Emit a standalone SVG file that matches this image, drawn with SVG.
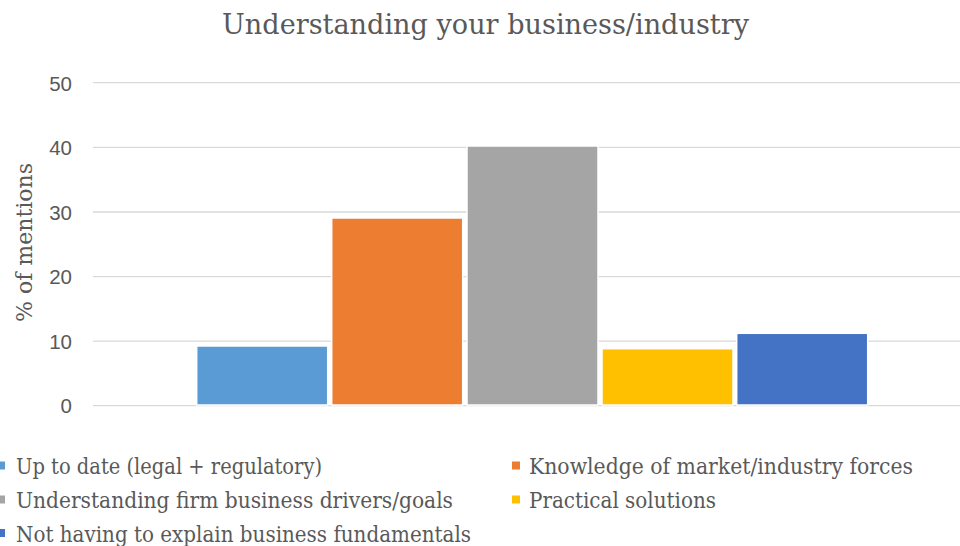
<svg xmlns="http://www.w3.org/2000/svg" width="960" height="546" viewBox="0 0 960 546">
<style>
.serif{font-family:"DejaVu Serif","Liberation Serif",serif;fill:#595959}
.tick{font-family:"Liberation Sans","DejaVu Sans",sans-serif;font-size:20.5px;fill:#595959;text-anchor:end}
.grid{stroke:#D9D9D9;stroke-width:1.3}
.bar{stroke:#FFFFFF;stroke-width:1.5}
</style>
<rect width="960" height="546" fill="#FFFFFF"/>
<text id="title" class="serif" x="222" y="33.5" font-size="28" textLength="527" lengthAdjust="spacingAndGlyphs">Understanding your business/industry</text>
<g id="gridlines">
<line class="grid" x1="93" y1="82.7" x2="960" y2="82.7"/>
<line class="grid" x1="93" y1="147.3" x2="960" y2="147.3"/>
<line class="grid" x1="93" y1="212" x2="960" y2="212"/>
<line class="grid" x1="93" y1="276.6" x2="960" y2="276.6"/>
<line class="grid" x1="93" y1="341.2" x2="960" y2="341.2"/>
<line class="grid" x1="93" y1="405.7" x2="960" y2="405.7"/>
</g>
<g id="yaxis">
<text class="tick" x="72" y="90.5">50</text>
<text class="tick" x="72" y="155">40</text>
<text class="tick" x="72" y="219.5">30</text>
<text class="tick" x="72" y="284">20</text>
<text class="tick" x="72" y="348.5">10</text>
<text class="tick" x="72" y="413">0</text>
<text class="serif" font-size="22" transform="translate(31.5,322) rotate(-90)" textLength="159" lengthAdjust="spacingAndGlyphs">% of mentions</text>
</g>
<g id="bars">
<rect id="bar-uptodate" class="bar" x="196.7" y="346" width="131" height="59" fill="#5B9BD5"/>
<rect id="bar-knowledge" class="bar" x="331.7" y="218" width="131" height="187" fill="#ED7D31"/>
<rect id="bar-drivers" class="bar" x="467" y="146" width="131" height="259" fill="#A5A5A5"/>
<rect id="bar-practical" class="bar" x="602" y="348.7" width="131" height="56.3" fill="#FFC000"/>
<rect id="bar-fundamentals" class="bar" x="736.7" y="333.3" width="131" height="71.7" fill="#4472C4"/>
</g>
<g id="legend">
<rect x="-3" y="461.5" width="8" height="8" fill="#5B9BD5"/>
<text class="serif" font-size="22.5" x="16" y="474" textLength="306" lengthAdjust="spacingAndGlyphs">Up to date (legal + regulatory)</text>
<rect x="512" y="461.5" width="8" height="8" fill="#ED7D31"/>
<text class="serif" font-size="22.5" x="529" y="474" textLength="384" lengthAdjust="spacingAndGlyphs">Knowledge of market/industry forces</text>
<rect x="-3" y="495.5" width="8" height="8" fill="#A5A5A5"/>
<text class="serif" font-size="22.5" x="16" y="508" textLength="437" lengthAdjust="spacingAndGlyphs">Understanding firm business drivers/goals</text>
<rect x="512" y="495.5" width="8" height="8" fill="#FFC000"/>
<text class="serif" font-size="22.5" x="529" y="508" textLength="187" lengthAdjust="spacingAndGlyphs">Practical solutions</text>
<rect x="-3" y="529" width="8" height="8" fill="#4472C4"/>
<text class="serif" font-size="22.5" x="16" y="541.5" textLength="455" lengthAdjust="spacingAndGlyphs">Not having to explain business fundamentals</text>
</g>
</svg>
